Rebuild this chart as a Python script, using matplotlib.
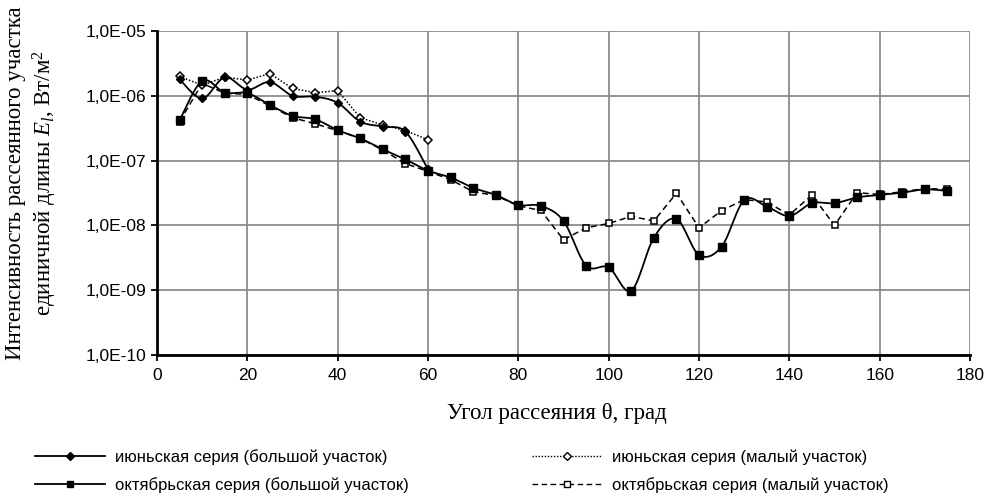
import numpy as np
import matplotlib
matplotlib.use("Agg")
import matplotlib.pyplot as plt
from matplotlib.lines import Line2D
from matplotlib.ticker import FuncFormatter, FixedLocator, NullLocator

# angles, degrees
angles_june = [5, 10, 15, 20, 25, 30, 35, 40, 45, 50, 55, 60]
angles_oct = [5, 10, 15, 20, 25, 30, 35, 40, 45, 50,
              55, 60, 65, 70, 75, 80, 85, 90, 95, 100,
              105, 110, 115, 120, 125, 130, 135, 140, 145, 150,
              155, 160, 165, 170, 175]

# intensities, W/m^2
june_big = [1.8e-6, 9.1e-7, 1.93e-6, 1.25e-6, 1.63e-6, 1.0e-6,
            9.7e-7, 7.8e-7, 4.0e-7, 3.35e-7, 2.8e-7, 7.3e-8]
june_small = [2.0e-6, 1.45e-6, 1.95e-6, 1.75e-6, 2.2e-6, 1.3e-6,
              1.12e-6, 1.2e-6, 4.6e-7, 3.55e-7, 2.9e-7, 2.1e-7]
oct_big = [4.2e-7, 1.7e-6, 1.12e-6, 1.1e-6, 7.2e-7, 4.9e-7, 4.35e-7, 2.95e-7, 2.2e-7, 1.49e-7,
           1.04e-7, 7.0e-8, 5.5e-8, 3.8e-8, 2.95e-8, 2.07e-8, 2.0e-8, 1.17e-8, 2.4e-9, 2.25e-9,
           9.8e-10, 6.45e-9, 1.26e-8, 3.5e-9, 4.7e-9, 2.45e-8, 1.95e-8, 1.4e-8, 2.2e-8, 2.2e-8,
           2.7e-8, 2.95e-8, 3.2e-8, 3.6e-8, 3.4e-8]
oct_small = [4.0e-7, 1.55e-6, 1.1e-6, 1.05e-6, 7.0e-7, 4.6e-7, 3.7e-7, 2.9e-7, 2.2e-7, 1.45e-7,
             9.0e-8, 6.8e-8, 5.1e-8, 3.3e-8, 2.9e-8, 2.0e-8, 1.7e-8, 6.0e-9, 9.2e-9, 1.07e-8,
             1.38e-8, 1.17e-8, 3.13e-8, 9.2e-9, 1.69e-8, 2.5e-8, 2.3e-8, 1.45e-8, 2.95e-8, 1.0e-8,
             3.2e-8, 3.0e-8, 3.3e-8, 3.7e-8, 3.6e-8]

labels = ["июньская серия (большой участок)",
          "октябрьская серия (большой участок)",
          "июньская серия (малый участок)",
          "октябрьская серия (малый участок)"]

x_ticks = [0, 20, 40, 60, 80, 100, 120, 140, 160, 180]
y_ticks = [1e-10, 1e-9, 1e-8, 1e-7, 1e-6, 1e-5]

plt.rcParams['font.family'] = ['Liberation Sans', 'DejaVu Sans']
plt.rcParams['mathtext.fontset'] = 'custom'
plt.rcParams['mathtext.rm'] = 'Liberation Serif'
plt.rcParams['mathtext.it'] = 'Liberation Serif:italic'


def smoothCurve(x, y, steps=24):
    # excel-like smoothed line, bezier through the points in (x, log y)
    pts = np.column_stack([np.asarray(x, float), np.log10(y)])
    pad = np.vstack([pts[0], pts, pts[-1]])
    t = np.linspace(0, 1, steps)[:, None]
    segs = []
    for i in range(1, len(pad) - 2):
        p0, p1, p2, p3 = pad[i - 1], pad[i], pad[i + 1], pad[i + 2]
        c1 = p1 + (p2 - p0) / 6
        c2 = p2 - (p3 - p1) / 6
        segs.append((1 - t)**3 * p1 + 3 * (1 - t)**2 * t * c1 + 3 * (1 - t) * t**2 * c2 + t**3 * p2)
    curve = np.vstack(segs)
    return curve[:, 0], 10**curve[:, 1]


def sciLabel(v, pos):
    e = int(round(np.log10(v)))
    return f"1,0E{'-' if e < 0 else '+'}{abs(e):02d}"


fig = plt.figure(figsize=(9.89, 4.97), dpi=100)
ax = fig.add_axes([157/989, 1 - 355/497, (970 - 157)/989, (355 - 31)/497])

lw = 1.3
# october, small section - dashed, hollow squares
ax.plot(angles_oct, oct_small, color='k', lw=1.1, ls=(0, (4, 2.5)), marker='s', ms=4.5,
        mfc='white', mec='k', mew=1.1, zorder=3)
# june, small section - dotted, hollow diamonds
ax.plot(angles_june, june_small, color='k', lw=1.1, ls=(0, (1, 1.2)), marker='D', ms=4.5,
        mfc='white', mec='k', mew=1.1, zorder=3)
# october, big section - smoothed solid, filled squares
sx, sy = smoothCurve(angles_oct, oct_big)
ax.plot(sx, sy, color='k', lw=lw, zorder=4)
ax.plot(angles_oct, oct_big, ls='none', marker='s', ms=5.5, color='k', zorder=5)
# june, big section - smoothed solid, filled diamonds
sx, sy = smoothCurve(angles_june, june_big)
ax.plot(sx, sy, color='k', lw=lw, zorder=4)
ax.plot(angles_june, june_big, ls='none', marker='D', ms=4.5, color='k', zorder=5)

ax.set_yscale('log')
ax.set_xlim(0, 180)
ax.set_ylim(1e-10, 1e-5)
ax.xaxis.set_major_locator(FixedLocator(x_ticks))
ax.yaxis.set_major_locator(FixedLocator(y_ticks))
ax.yaxis.set_minor_locator(NullLocator())
ax.yaxis.set_major_formatter(FuncFormatter(sciLabel))
ax.tick_params(axis='both', labelsize=12.5, length=4, width=1.3, direction='out', colors='k')
ax.tick_params(axis='x', pad=5)
ax.tick_params(axis='y', pad=4)

ax.grid(True, color='#8c8c8c', lw=1.3)
ax.set_axisbelow(True)
for s in ['top', 'right']:
    ax.spines[s].set_visible(False)
for s in ['left', 'bottom']:
    ax.spines[s].set_linewidth(2)
    ax.spines[s].set_zorder(6)

fig.text(557/989, 1 - 414/497, "Угол рассеяния θ, град", family='Liberation Serif',
         fontsize=16.5, ha='center', va='center')
fig.text(32/989, 1 - 183/497,
         "Интенсивность рассеянного участка\nединичной длины $E_l$, Вт/м$^2$",
         family='Liberation Serif', fontsize=16.5, rotation=90, ha='center', va='center',
         linespacing=1.2, multialignment='center')

handles = [
    Line2D([], [], color='k', lw=lw, marker='D', ms=4),
    Line2D([], [], color='k', lw=lw, marker='s', ms=5),
    Line2D([], [], color='k', lw=1.0, ls=(0, (1, 1.2)), marker='D', ms=4, mfc='white'),
    Line2D([], [], color='k', lw=1.0, ls=(0, (4, 2.5)), marker='s', ms=4, mfc='white'),
]
fig.legend(handles, labels, ncol=2, loc='upper left', bbox_to_anchor=(35/989, 1 - 449/497),
           frameon=False, fontsize=12, handlelength=4.2, handletextpad=0.6,
           columnspacing=7.4, labelspacing=0.72, borderpad=0, borderaxespad=0)

fig.savefig("out.png", dpi=100)
